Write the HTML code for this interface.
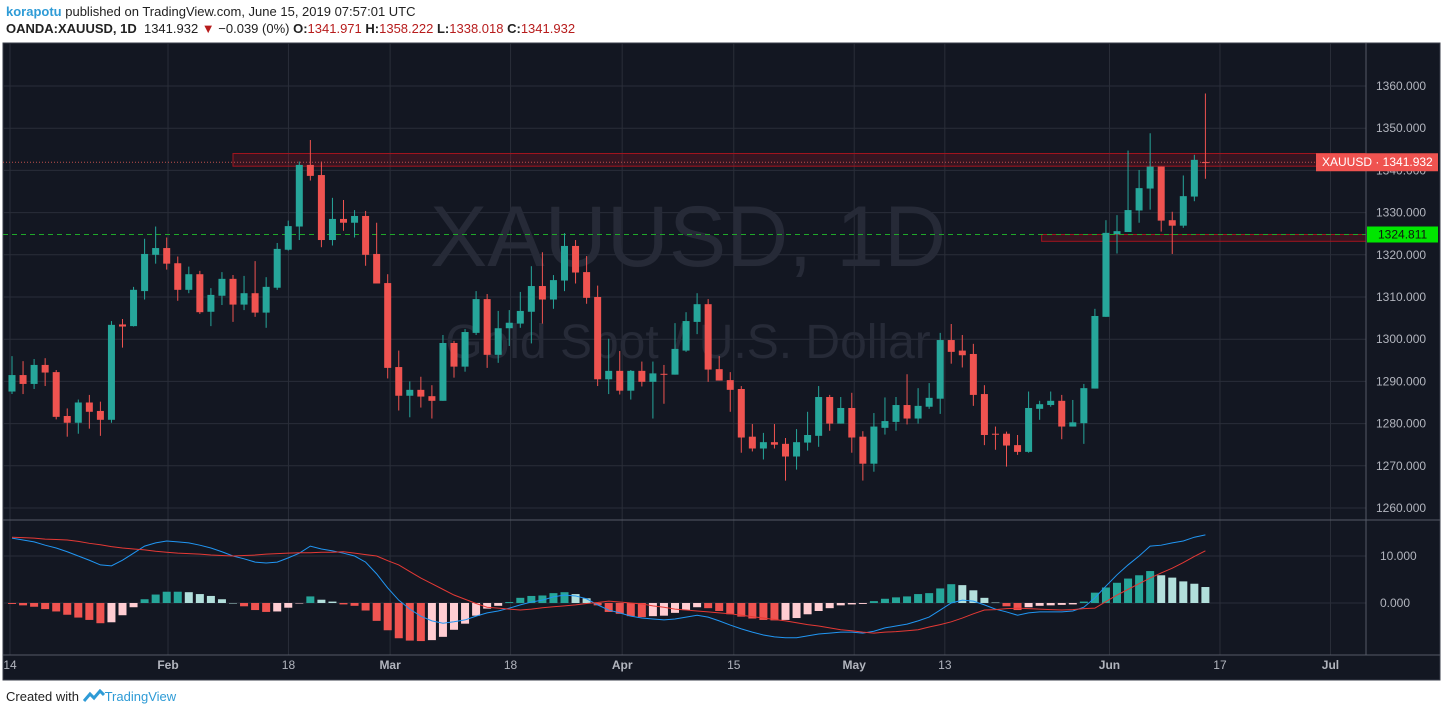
<!DOCTYPE html>
<html><head><meta charset="utf-8"><style>
body{margin:0;width:1444px;height:715px;background:#fff;overflow:hidden;font-family:"Liberation Sans",sans-serif;position:relative}
.hdr{position:absolute;left:6px;font-size:13px;color:#222;white-space:nowrap}
.r{color:#b71c1c}
svg text{font-family:"Liberation Sans",sans-serif}
</style></head><body>
<div class="hdr" style="top:4px"><span style="color:#2e9bd6;font-weight:bold">korapotu</span> published on TradingView.com, June 15, 2019 07:57:01 UTC</div>
<div class="hdr" style="top:21px"><b>OANDA:XAUUSD, 1D</b>&nbsp; 1341.932 <span style="color:#b71c1c">▼</span> −0.039 (0%) <b>O:</b><span class="r">1341.971</span> <b>H:</b><span class="r">1358.222</span> <b>L:</b><span class="r">1338.018</span> <b>C:</b><span class="r">1341.932</span></div>
<svg id="chart" width="1444" height="715" style="position:absolute;left:0;top:0">
<rect x="3" y="43" width="1437" height="637" fill="#131722" stroke="#3a3e49"/>
<g id="grid"></g>
<text x="688" y="266" font-size="86" fill="#262a37" text-anchor="middle">XAUUSD, 1D</text>
<text x="688" y="358" font-size="48" fill="#262a37" text-anchor="middle">Gold Spot / U.S. Dollar</text>
<g id="zones"></g>
<g id="candles"></g>
<g id="macd"></g>
<line x1="3" y1="520" x2="1440" y2="520" stroke="#555a66"/>
<line x1="1366" y1="43" x2="1366" y2="655" stroke="#555a66"/>
<line x1="3" y1="655" x2="1440" y2="655" stroke="#555a66"/>
<g id="axes"></g>
</svg>
<div style="position:absolute;left:6px;top:689px;font-size:13px;color:#222">Created with <svg width="22" height="14" style="vertical-align:-2px"><path d="M1 12 L7 5 L11 9 L17 2 L21 6" stroke="#2e9bd6" stroke-width="3" fill="none"/></svg><span style="color:#2e9bd6">TradingView</span></div>
<script>
const opens=[1287.6,1291.5,1289.4,1293.9,1292.2,1281.8,1280.2,1285.0,1283.0,1280.9,1303.5,1303.1,1311.4,1320.0,1321.6,1318.0,1311.7,1315.4,1306.5,1310.3,1314.3,1308.2,1310.9,1306.3,1312.2,1321.2,1326.7,1341.3,1338.9,1323.5,1328.5,1327.6,1329.2,1320.2,1313.3,1293.4,1286.6,1288.0,1286.5,1285.4,1299.1,1293.5,1301.5,1309.5,1296.3,1302.6,1303.7,1306.5,1312.6,1309.4,1313.9,1322.1,1315.9,1310.0,1290.5,1292.5,1287.8,1292.5,1289.9,1291.8,1291.6,1297.3,1304.1,1308.3,1292.9,1290.3,1288.2,1276.9,1274.1,1275.6,1275.2,1272.2,1275.5,1277.1,1286.3,1280.0,1283.7,1276.9,1270.5,1279.0,1280.4,1284.4,1281.2,1284.0,1285.9,1299.8,1297.3,1296.5,1287.0,1277.6,1277.6,1274.9,1273.3,1283.5,1284.4,1285.4,1279.3,1280.1,1288.3,1305.3,1324.9,1325.4,1330.5,1335.7,1340.9,1328.2,1326.9,1333.8,1341.971];
const highs=[1296.0,1294.8,1295.3,1295.5,1292.7,1283.6,1285.7,1286.8,1285.2,1304.3,1304.8,1312.4,1323.8,1326.7,1324.1,1319.6,1317.2,1316.2,1312.1,1315.9,1315.2,1315.0,1318.5,1314.7,1322.8,1328.1,1342.1,1347.2,1342.1,1333.5,1333.0,1330.6,1330.4,1327.6,1315.4,1297.3,1290.0,1291.1,1289.1,1301.0,1299.6,1302.4,1311.4,1310.7,1306.7,1306.9,1311.2,1317.3,1320.6,1315.2,1325.1,1323.5,1319.7,1312.7,1300.1,1297.2,1292.7,1294.7,1294.7,1293.9,1303.8,1306.4,1310.9,1309.5,1296.0,1292.2,1288.9,1279.9,1277.8,1279.9,1276.6,1278.7,1282.8,1288.9,1286.8,1286.3,1287.3,1278.2,1282.5,1286.2,1286.3,1291.7,1288.4,1289.6,1301.5,1303.6,1301.0,1298.9,1289.1,1279.3,1278.1,1277.3,1287.6,1285.4,1287.6,1286.8,1285.6,1289.4,1307.2,1328.2,1329.4,1344.7,1340.1,1348.8,1340.9,1330.2,1338.8,1343.7,1358.222];
const lows=[1287.0,1287.0,1288.2,1288.9,1281.0,1276.9,1277.6,1278.8,1277.1,1280.2,1298.0,1303.0,1309.4,1317.9,1316.5,1309.1,1310.9,1306.0,1303.1,1308.1,1304.1,1306.9,1305.3,1302.7,1311.7,1321.0,1323.5,1337.6,1321.8,1322.2,1325.7,1324.1,1317.4,1313.2,1290.7,1283.1,1281.5,1283.8,1281.2,1285.4,1290.9,1292.3,1301.0,1293.2,1294.4,1298.4,1302.7,1299.0,1303.7,1307.2,1311.4,1313.2,1308.4,1288.9,1287.0,1286.9,1285.7,1288.8,1281.2,1284.7,1291.6,1297.0,1301.2,1289.9,1290.2,1282.8,1273.1,1273.4,1271.5,1274.1,1266.5,1269.1,1273.6,1274.5,1278.3,1280.0,1273.1,1266.5,1268.6,1277.4,1278.3,1279.8,1280.0,1283.5,1282.3,1294.2,1293.3,1284.2,1274.9,1273.8,1269.8,1272.6,1273.1,1280.9,1284.0,1276.3,1279.3,1275.2,1288.3,1305.3,1320.3,1325.4,1327.6,1330.7,1325.5,1320.2,1326.4,1332.7,1338.018];
const closes=[1291.5,1289.4,1293.9,1292.1,1281.6,1280.2,1285.0,1282.8,1280.9,1303.4,1303.0,1311.7,1320.2,1321.6,1317.9,1311.7,1315.4,1306.4,1310.5,1314.3,1308.2,1310.9,1306.3,1312.4,1321.4,1326.8,1341.3,1338.7,1323.5,1328.5,1327.6,1329.2,1320.0,1313.2,1293.2,1286.6,1288.0,1286.4,1285.4,1299.1,1293.5,1301.7,1309.5,1296.3,1302.6,1303.9,1306.7,1312.6,1309.4,1314.0,1322.1,1315.8,1309.8,1290.5,1292.5,1287.8,1292.5,1289.9,1291.9,1291.6,1297.7,1304.3,1308.3,1292.8,1290.2,1288.0,1276.7,1274.1,1275.6,1275.0,1272.2,1275.6,1277.3,1286.3,1280.0,1283.7,1276.7,1270.5,1279.3,1280.6,1284.4,1281.2,1284.2,1286.1,1299.8,1297.0,1296.2,1286.8,1277.3,1277.5,1274.8,1273.3,1283.7,1284.6,1285.4,1279.3,1280.3,1288.4,1305.5,1325.2,1325.6,1330.6,1335.8,1340.9,1328.1,1326.9,1333.9,1342.5,1341.932];
const macdLine=[13.8,13.4,13.0,12.3,11.7,10.9,10.0,9.1,8.1,7.9,9.1,10.6,12.1,12.8,13.2,13.0,12.8,12.3,11.7,10.9,10.0,9.4,8.7,8.5,8.7,9.6,10.6,12.1,11.5,11.1,10.6,10.0,8.7,6.2,3.2,0.6,-1.3,-2.8,-3.8,-4.3,-4.0,-3.6,-2.8,-2.1,-1.7,-1.1,-0.4,0.2,0.6,1.3,1.7,1.5,0.9,-0.4,-1.5,-2.1,-2.8,-3.2,-3.4,-3.6,-3.4,-3.0,-2.6,-3.0,-3.8,-4.7,-5.5,-6.2,-6.8,-7.2,-7.4,-7.4,-7.0,-6.6,-6.4,-6.2,-6.2,-6.4,-6.0,-5.3,-4.9,-4.5,-3.8,-3.0,-1.5,0.0,0.6,0.4,-0.4,-1.3,-1.9,-2.6,-2.1,-1.9,-1.9,-1.9,-1.7,-0.9,1.1,3.6,6.0,8.1,10.0,12.1,12.3,12.8,13.2,14.0,14.5];
const signalLine=[14.0,13.9,13.8,13.6,13.5,13.4,13.1,12.7,12.4,12.0,11.7,11.5,11.3,11.0,10.8,10.6,10.5,10.4,10.2,10.1,10.0,10.1,10.2,10.4,10.5,10.6,10.7,10.7,10.8,10.8,10.9,10.6,10.3,10.0,9.0,8.1,6.7,5.3,4.1,2.9,1.7,0.8,-0.1,-0.9,-1.1,-1.3,-1.5,-1.3,-1.0,-0.8,-0.6,-0.4,-0.1,0.1,0.4,0.2,0.0,-0.2,-0.6,-0.9,-1.3,-1.5,-1.7,-1.9,-2.1,-2.3,-2.6,-2.9,-3.2,-3.5,-3.8,-4.2,-4.6,-4.9,-5.3,-5.7,-5.9,-6.2,-6.4,-6.2,-6.1,-5.9,-5.7,-5.1,-4.6,-4.0,-3.2,-2.3,-1.5,-1.4,-1.2,-1.1,-1.2,-1.3,-1.4,-1.5,-1.4,-1.2,-1.1,0.3,1.7,2.9,4.1,5.3,6.4,7.4,8.6,9.9,11.1];
const priceTicks=[1360,1350,1340,1330,1320,1310,1300,1290,1280,1270,1260];
const macdTicks=[10,0];
const timeLabels=["14","Feb","18","Mar","18","Apr","15","May","13","Jun","17","Jul"];
const timeLabelIdx=[0,14.3,25.2,34.4,45.3,55.4,65.5,76.4,84.6,99.5,109.5,119.5];
const lastPrice=1341.932, supportLevel=1324.811;
const zoneTop=1344.0, zoneBot=1341.0, zoneStartIdx=20, zone2Top=1324.8, zone2Bot=1323.2, zone2StartIdx=93;

const NS="http://www.w3.org/2000/svg";
const X=i=>12+i*11.05;
const PY=p=>86+(1360-p)*4.22;
const MY=v=>603-v*4.7;
function mk(tag,attrs,parent){const e=document.createElementNS(NS,tag);for(const k in attrs)e.setAttribute(k,attrs[k]);parent.appendChild(e);return e;}
const grid=document.getElementById('grid'),axes=document.getElementById('axes');
priceTicks.forEach(p=>{
 const l=mk('line',{x1:3,x2:1366,y1:PY(p),y2:PY(p),stroke:'#2a2e39'},grid);
 
 
 const t=mk('text',{x:1376,y:PY(p)+4,'font-size':12,fill:'#b2b5be'},axes);t.textContent=p.toFixed(3);
 
 
});
macdTicks.forEach(v=>{
 const l=mk('line',{x1:3,x2:1366,y1:MY(v),y2:MY(v),stroke:'#2a2e39'},grid);
 
 
 const t=mk('text',{x:1380,y:MY(v)+4,'font-size':12,fill:'#b2b5be'},axes);t.textContent=v.toFixed(3);
 
 
});
timeLabels.forEach((s,k)=>{
 const x=X(timeLabelIdx[k])-2;
 const l=mk('line',{x1:x,x2:x,y1:43,y2:655,stroke:'#2a2e39'},grid);
 
 
 const t=mk('text',{x:x,y:669,'font-size':12,fill:'#b2b5be','text-anchor':'middle','font-weight':/^[A-Z]/.test(s)?'bold':'normal'},axes);t.textContent=s;
 
 
});
const zones=document.getElementById('zones');
let z=mk('rect',{x:X(zoneStartIdx),y:PY(zoneTop),width:1366-X(zoneStartIdx),height:PY(zoneBot)-PY(zoneTop),fill:'rgba(180,20,30,0.22)',stroke:'#a3151f'},zones);


z=mk('rect',{x:X(zone2StartIdx)+2,y:PY(zone2Top),width:1366-X(zone2StartIdx)-2,height:PY(zone2Bot)-PY(zone2Top),fill:'rgba(180,20,30,0.22)',stroke:'#a3151f'},zones);


z=mk('line',{x1:3,x2:1366,y1:PY(lastPrice),y2:PY(lastPrice),stroke:'#c0504d','stroke-dasharray':'1 2'},zones);


z=mk('line',{x1:3,x2:1366,y1:PY(supportLevel),y2:PY(supportLevel),stroke:'#1fa82a','stroke-dasharray':'5 4'},zones);


const cg=document.getElementById('candles');
opens.forEach((o,i)=>{
 const c=closes[i],up=c>=o,col=up?'#26a69a':'#ef5350',x=X(i);
 const g=mk('g',{},cg);
 
 
 mk('line',{x1:x,x2:x,y1:PY(highs[i]),y2:PY(lows[i]),stroke:col,'stroke-width':1},g);
 const t=PY(Math.max(o,c)),b=PY(Math.min(o,c));
 mk('rect',{x:x-3.5,y:t,width:7,height:Math.max(1,b-t),fill:col},g);
});
const mg=document.getElementById('macd');
macdLine.forEach((m,i)=>{
 const h=m-signalLine[i],prev=i?macdLine[i-1]-signalLine[i-1]:h;
 const col=h>=0?(h>=prev?'#26a69a':'#b2dfdb'):(h<=prev?'#ef5350':'#ffcdd2');
 const y0=MY(0),y1=MY(h);
 const r=mk('rect',{x:X(i)-4,y:Math.min(y0,y1),width:8,height:Math.max(0.5,Math.abs(y1-y0)),fill:col},mg);
 
 
});
let ml=mk('polyline',{points:macdLine.map((v,i)=>X(i)+','+MY(v)).join(' '),fill:'none',stroke:'#2196f3','stroke-width':1},mg);


ml=mk('polyline',{points:signalLine.map((v,i)=>X(i)+','+MY(v)).join(' '),fill:'none',stroke:'#e53935','stroke-width':1},mg);


let lb=mk('rect',{x:1316,y:PY(lastPrice)-9,width:122,height:18,fill:'#ef5350'},axes);


let lt=mk('text',{x:1322,y:PY(lastPrice)+4,'font-size':12,fill:'#fff'},axes);lt.textContent='XAUUSD · '+lastPrice.toFixed(3);


lb=mk('rect',{x:1367,y:PY(supportLevel)-8,width:71,height:16,fill:'#00e600'},axes);


lt=mk('text',{x:1378,y:PY(supportLevel)+4,'font-size':12,fill:'#111'},axes);lt.textContent=supportLevel.toFixed(3);


</script>
</body></html>
